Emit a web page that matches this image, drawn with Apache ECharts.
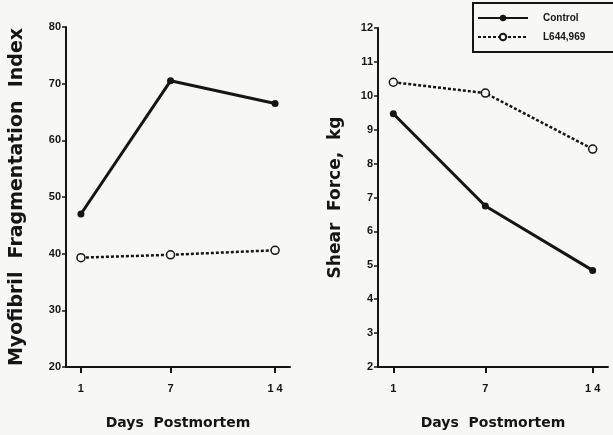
<!DOCTYPE html>
<html>
<head>
<meta charset="utf-8">
<script src="https://cdn.jsdelivr.net/npm/echarts@6/dist/echarts.min.js"></script>
<style>
  html, body { margin: 0; padding: 0; background: #f7f7f5; }
  #chart { width: 613px; height: 435px; }
</style>
</head>
<body>
<div id="chart"></div>
<script>
// days postmortem
var days = [1, 7, 14];
// left panel: myofibril fragmentation index
var mfiControl = [47.0, 70.5, 66.5];
var mfiL644 = [39.3, 39.8, 40.6];
// right panel: shear force, kg
var shearControl = [9.47, 6.75, 4.85];
var shearL644 = [10.4, 10.08, 8.43];

var seriesNames = ["Control", "L644,969"];

function pairs(xs, ys) {
  return xs.map(function (x, i) { return [x, ys[i]]; });
}

var ink = "#151515";
var font = "Liberation Sans";
var wide = "DejaVu Sans";

function xAxis(grid) {
  return {
    type: "value",
    gridIndex: grid,
    min: 0,
    max: 15,
    splitLine: { show: false },
    axisLine: { lineStyle: { color: ink, width: 2 } },
    axisTick: { customValues: days, length: 6, lineStyle: { color: ink, width: 2 } },
    axisLabel: {
      customValues: days,
      formatter: function (v) { return v === 14 ? "1 4" : String(v); },
      color: ink, fontFamily: font, fontWeight: "bold", fontSize: 11, margin: 16,
    },
    name: "Days  Postmortem",
    nameLocation: "middle",
    nameGap: 49,
    nameTextStyle: { color: ink, fontFamily: wide, fontWeight: "bold", fontSize: 14 },
  };
}

function yAxis(grid, min, max, step, title, gap, size) {
  return {
    type: "value",
    gridIndex: grid,
    min: min,
    max: max,
    interval: step,
    splitLine: { show: false },
    axisLine: { show: true, lineStyle: { color: ink, width: 2 } },
    axisTick: { show: true, length: 4, lineStyle: { color: ink, width: 1.5 } },
    axisLabel: { color: ink, fontFamily: font, fontWeight: "bold", fontSize: 11, margin: 5 },
    name: title,
    nameLocation: "middle",
    nameRotate: 90,
    nameGap: gap,
    nameTextStyle: { color: ink, fontFamily: wide, fontWeight: "bold", fontSize: size },
  };
}

var controlStyle = {
  type: "line",
  symbol: "circle",
  symbolSize: 7,
  itemStyle: { color: ink },
  lineStyle: { color: ink, width: 3 },
};
var l644Style = {
  type: "line",
  symbol: "circle",
  symbolSize: 8,
  itemStyle: { color: "#f7f7f5", borderColor: ink, borderWidth: 1.5 },
  lineStyle: { color: ink, width: 2.5, type: [3, 2] },
};

var chart = echarts.init(document.getElementById("chart"));
chart.setOption({
  backgroundColor: "#f7f7f5",
  animation: false,
  grid: [
    { left: 66, top: 27, width: 224, height: 341 },
    { left: 378, top: 28, width: 230, height: 340 },
  ],
  xAxis: [xAxis(0), xAxis(1)],
  yAxis: [
    yAxis(0, 20, 80, 10, "Myofibril  Fragmentation  Index", 39, 19),
    yAxis(1, 2, 12, 1, "Shear  Force,  kg", 34, 17),
  ],
  legend: {
    orient: "vertical",
    left: 473,
    top: 3,
    padding: [10, 60, 10, 4],
    borderColor: ink,
    borderWidth: 2,
    itemWidth: 50,
    itemHeight: 8,
    itemGap: 9,
    data: seriesNames,
    textStyle: { color: ink, fontFamily: font, fontWeight: "bold", fontSize: 10, padding: [0, 0, 0, 10] },
  },
  series: [
    Object.assign({ name: seriesNames[0], xAxisIndex: 0, yAxisIndex: 0, data: pairs(days, mfiControl) }, controlStyle),
    Object.assign({ name: seriesNames[1], xAxisIndex: 0, yAxisIndex: 0, data: pairs(days, mfiL644) }, l644Style),
    Object.assign({ name: seriesNames[0], xAxisIndex: 1, yAxisIndex: 1, data: pairs(days, shearControl) }, controlStyle),
    Object.assign({ name: seriesNames[1], xAxisIndex: 1, yAxisIndex: 1, data: pairs(days, shearL644) }, l644Style),
  ],
});
</script>
</body>
</html>
